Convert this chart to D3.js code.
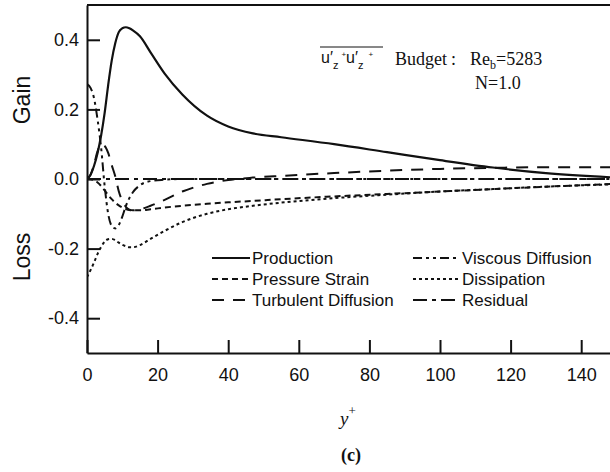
<!DOCTYPE html>
<html>
<head>
<meta charset="utf-8">
<script src="https://cdn.jsdelivr.net/npm/d3@7"></script>
<style>
body { margin: 0; background: #fff; }
svg { display: block; }
</style>
</head>
<body>
<script>
// y+ grid shared by all budget terms
var yPlus = [0, 1, 2, 3, 4, 5, 6, 7, 8, 9, 10, 11, 12, 13, 15, 18, 22, 27, 34, 40, 47, 55, 70, 85, 100, 115, 130, 150];

var production = [0, 0.012, 0.038, 0.075, 0.125, 0.19, 0.27, 0.34, 0.39, 0.422, 0.433, 0.436, 0.433, 0.427,
    0.41, 0.364, 0.303, 0.243, 0.182, 0.151, 0.131, 0.12, 0.1, 0.077, 0.054, 0.033, 0.017, 0.004];
var pressureStrain = [0, -0.001, -0.004, -0.01, -0.02, -0.033, -0.046, -0.058, -0.068, -0.076, -0.082, -0.086, -0.089, -0.09,
    -0.09, -0.087, -0.082, -0.077, -0.071, -0.067, -0.063, -0.058, -0.05, -0.043, -0.036, -0.029, -0.022, -0.014];
var turbulentDiffusion = [0, 0.012, 0.042, 0.08, 0.1, 0.095, 0.075, 0.04, 0.008, -0.035, -0.063, -0.08, -0.088, -0.09,
    -0.087, -0.077, -0.06, -0.036, -0.014, -0.003, 0.004, 0.009, 0.017, 0.024, 0.029, 0.032, 0.034, 0.034];
var viscousDiffusion = [0.273, 0.262, 0.232, 0.17, 0.09, -0.02, -0.1, -0.135, -0.142, -0.132, -0.108, -0.078, -0.055, -0.038,
    -0.018, -0.006, -0.002, 0, 0, 0, 0, 0, 0, 0, 0, 0, 0, 0];
var dissipation = [-0.282, -0.262, -0.24, -0.215, -0.195, -0.18, -0.173, -0.172, -0.176, -0.183, -0.189, -0.193, -0.196, -0.196,
    -0.19, -0.172, -0.149, -0.124, -0.1, -0.087, -0.077, -0.068, -0.055, -0.045, -0.036, -0.029, -0.022, -0.015];
var residual = [0, 0, 0, 0, 0, 0, 0, 0, 0, 0, 0, 0, 0, 0, 0, 0, 0, 0, 0, 0, 0, 0, 0, 0, 0, 0, 0, 0];

var seriesNames = ['Production', 'Pressure Strain', 'Turbulent Diffusion', 'Viscous Diffusion', 'Dissipation', 'Residual'];
var seriesValues = [production, pressureStrain, turbulentDiffusion, viscousDiffusion, dissipation, residual];

var xTicks = [0, 20, 40, 60, 80, 100, 120, 140];
var yTicks = [-0.4, -0.2, 0.0, 0.2, 0.4];

var width = 610, height = 472;
var ink = '#111';

var dashes = {
    'Production': null,
    'Pressure Strain': '6,4',
    'Turbulent Diffusion': '12,9',
    'Viscous Diffusion': '9,4,3,4,3,4',
    'Dissipation': '3,3',
    'Residual': '14,5,4,5'
};

var svg = d3.select('body')
    .append('svg')
    .attr('width', width)
    .attr('height', height)
    .style('font-family', '"Liberation Sans", Arial, sans-serif');

var x = d3.scaleLinear().domain([0, 150]).range([87, 616.5]);
var y = d3.scaleLinear().domain([-0.5, 0.5]).range([353, 5]);

svg.append('clipPath')
    .attr('id', 'plot_clip')
    .append('rect')
    .attr('x', x(0))
    .attr('y', y(0.5))
    .attr('width', x(150) - x(0))
    .attr('height', y(-0.5) - y(0.5));

// axes, ticks point inward
var xaxis = svg.append('g')
    .attr('transform', `translate(0, ${y(-0.5)})`)
    .call(d3.axisBottom(x).tickValues(xTicks).tickSize(-13).tickSizeOuter(0).tickPadding(15)
        .tickFormat(function(d) { return String(d); }));

var yaxis = svg.append('g')
    .attr('transform', `translate(${x(0)}, 0)`)
    .call(d3.axisLeft(y).tickValues(yTicks).tickSize(-13).tickSizeOuter(0).tickPadding(8)
        .tickFormat(function(d) { return d.toFixed(1); }));

svg.selectAll('.domain').attr('stroke', ink).attr('stroke-width', 2);
svg.selectAll('.tick line').attr('stroke', ink).attr('stroke-width', 2);
svg.selectAll('.tick text')
    .attr('fill', ink)
    .style('font-size', '18px')
    .style('font-family', '"Liberation Sans", Arial, sans-serif');

// top frame line
svg.append('line')
    .attr('x1', x(0)).attr('x2', x(150))
    .attr('y1', y(0.5)).attr('y2', y(0.5))
    .attr('stroke', ink)
    .attr('stroke-width', 2);

var line = d3.line()
    .x(function(d) { return x(d[0]); })
    .y(function(d) { return y(d[1]); })
    .curve(d3.curveMonotoneX);

var curves = svg.append('g').attr('clip-path', 'url(#plot_clip)');

seriesNames.forEach(function(name, i) {
    var pts = yPlus.map(function(v, j) { return [v, seriesValues[i][j]]; });
    curves.append('path')
        .datum(pts)
        .attr('d', line)
        .attr('fill', 'none')
        .attr('stroke', ink)
        .attr('stroke-width', name === 'Production' ? 2.2 : 2)
        .attr('stroke-dasharray', dashes[name]);
});

// legend
var legendCols = [
    { x1: 212, x2: 250, tx: 252 },
    { x1: 413, x2: 458, tx: 462 }
];
var legendRows = [258, 279, 300];

var legend = svg.append('g').attr('id', 'legend');
seriesNames.forEach(function(name, i) {
    var col = legendCols[Math.floor(i / 3)];
    var ly = legendRows[i % 3];
    legend.append('line')
        .attr('x1', col.x1).attr('x2', col.x2)
        .attr('y1', ly).attr('y2', ly)
        .attr('stroke', ink)
        .attr('stroke-width', 2)
        .attr('stroke-dasharray', dashes[name]);
    legend.append('text')
        .attr('x', col.tx)
        .attr('y', ly)
        .attr('dy', '0.36em')
        .attr('fill', ink)
        .style('font-size', '17px')
        .text(name);
});

// Gain / Loss labels
svg.append('text')
    .attr('transform', 'translate(30, 100) rotate(-90)')
    .attr('text-anchor', 'middle')
    .attr('fill', ink)
    .style('font-size', '23px')
    .text('Gain');

svg.append('text')
    .attr('transform', 'translate(30, 257) rotate(-90)')
    .attr('text-anchor', 'middle')
    .attr('fill', ink)
    .style('font-size', '23px')
    .text('Loss');

// title annotation
var ann = svg.append('g').attr('id', 'annotation');
ann.append('line')
    .attr('x1', 320).attr('x2', 383)
    .attr('y1', 47).attr('y2', 47)
    .attr('stroke', ink).attr('stroke-width', 1);

var uu = ann.append('text')
    .attr('x', 321).attr('y', 63)
    .attr('fill', ink)
    .style('font-size', '16px');
uu.append('tspan').text('u\u2032');
uu.append('tspan').attr('dy', 6).style('font-size', '11px').text('z');
uu.append('tspan').attr('dy', -12).attr('dx', 3).style('font-size', '8px').text('+');
uu.append('tspan').attr('dy', 6).text('u\u2032');
uu.append('tspan').attr('dy', 6).style('font-size', '11px').text('z');
uu.append('tspan').attr('dy', -12).attr('dx', 5).style('font-size', '8px').text('+');

var bud = ann.append('text')
    .attr('y', 65)
    .attr('fill', ink)
    .style('font-family', '"Liberation Serif", "Times New Roman", serif')
    .style('font-size', '18px');
bud.append('tspan').attr('x', 395).text('Budget');
bud.append('tspan').attr('x', 451).text(':');
bud.append('tspan').attr('x', 470).text('Re');
bud.append('tspan').attr('dy', 4).style('font-size', '12px').text('b');
bud.append('tspan').attr('dy', -4).text('=5283');

ann.append('text')
    .attr('x', 475).attr('y', 89)
    .attr('fill', ink)
    .style('font-family', '"Liberation Serif", "Times New Roman", serif')
    .style('font-size', '18px')
    .text('N=1.0');

// x label and panel tag
var xl = svg.append('text')
    .attr('x', 340).attr('y', 425)
    .attr('fill', ink)
    .style('font-family', '"Liberation Serif", "Times New Roman", serif')
    .style('font-size', '19px')
    .style('font-style', 'italic');
xl.append('tspan').text('y');
xl.append('tspan').attr('dy', -10).style('font-size', '13px').style('font-style', 'normal').text('+');

svg.append('text')
    .attr('x', 351).attr('y', 461)
    .attr('text-anchor', 'middle')
    .attr('fill', ink)
    .style('font-family', '"Liberation Serif", "Times New Roman", serif')
    .style('font-size', '18px')
    .style('font-weight', 'bold')
    .text('(c)');
</script>
</body>
</html>
